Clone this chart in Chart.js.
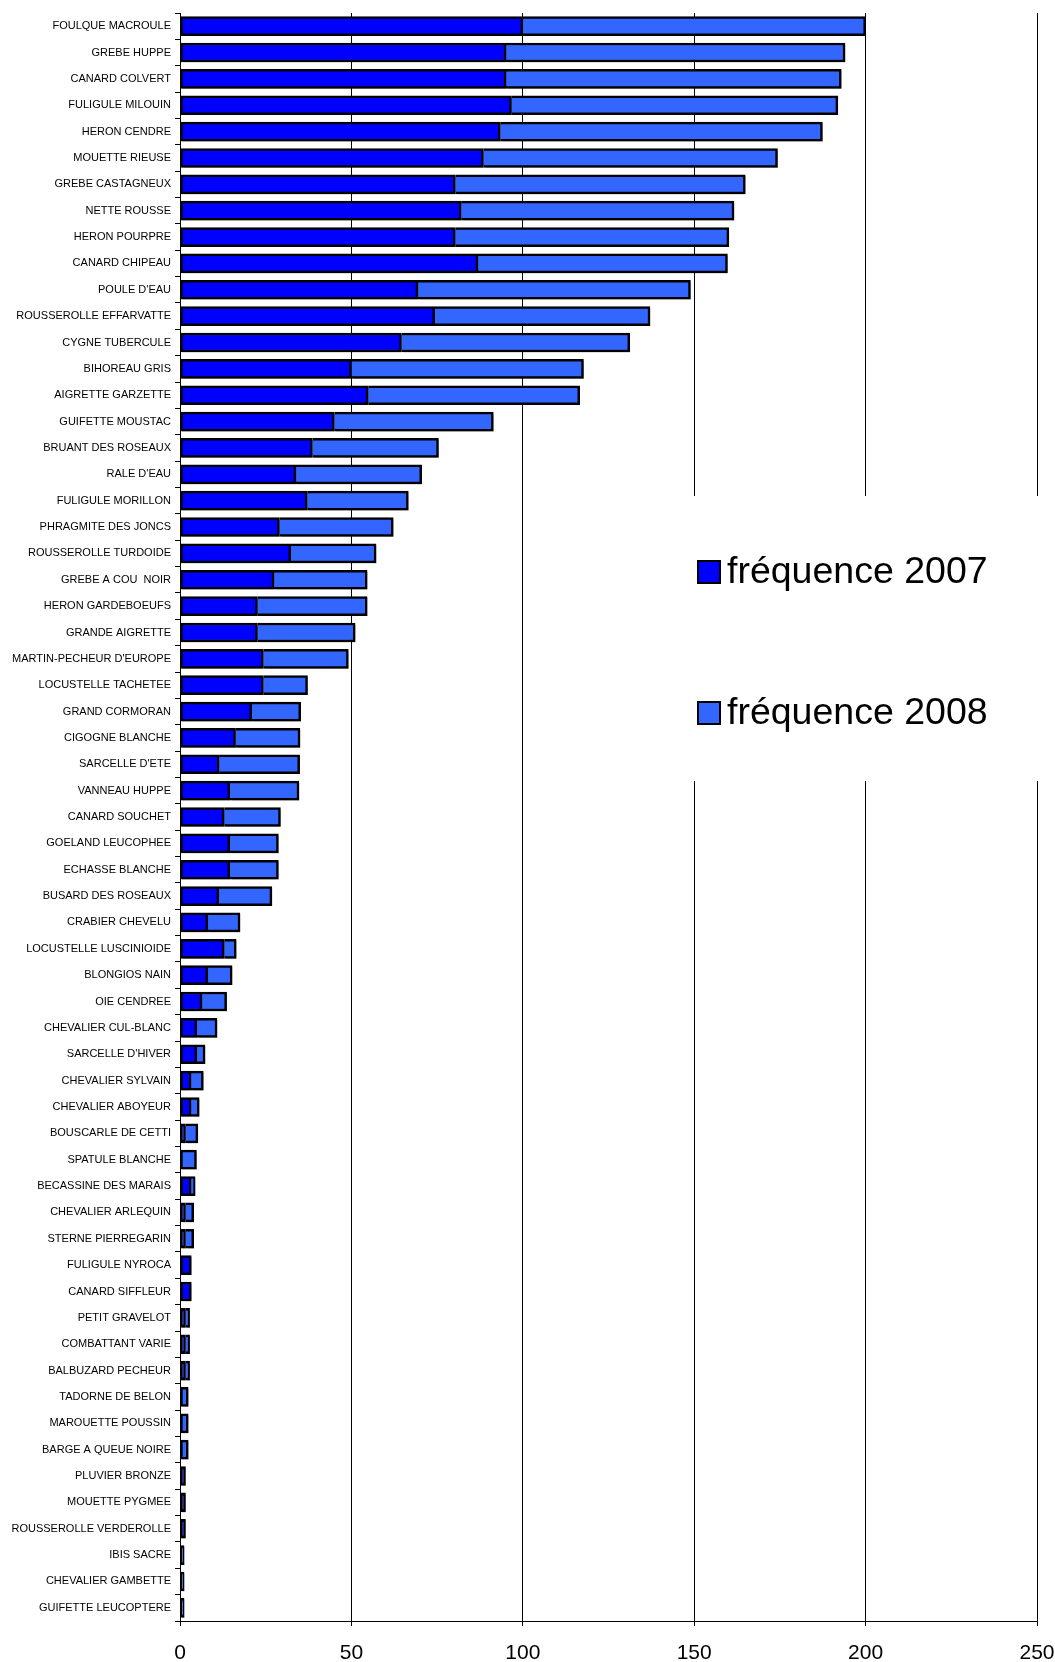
<!DOCTYPE html>
<html>
<head>
<meta charset="utf-8">
<script src="https://cdn.jsdelivr.net/npm/chart.js@4/dist/chart.umd.min.js"></script>
<style>
  body { margin: 0; background: #fff; }
  #wrap { width: 1055px; height: 1662px; }
</style>
</head>
<body>
<div id="wrap"><canvas id="myChart" width="1055" height="1662"></canvas></div>
<script>
const especes = ["FOULQUE MACROULE","GREBE HUPPE","CANARD COLVERT","FULIGULE MILOUIN","HERON CENDRE",
  "MOUETTE RIEUSE","GREBE CASTAGNEUX","NETTE ROUSSE","HERON POURPRE","CANARD CHIPEAU",
  "POULE D'EAU","ROUSSEROLLE EFFARVATTE","CYGNE TUBERCULE","BIHOREAU GRIS","AIGRETTE GARZETTE",
  "GUIFETTE MOUSTAC","BRUANT DES ROSEAUX","RALE D'EAU","FULIGULE MORILLON","PHRAGMITE DES JONCS",
  "ROUSSEROLLE TURDOIDE","GREBE A COU  NOIR","HERON GARDEBOEUFS","GRANDE AIGRETTE","MARTIN-PECHEUR D'EUROPE",
  "LOCUSTELLE TACHETEE","GRAND CORMORAN","CIGOGNE BLANCHE","SARCELLE D'ETE","VANNEAU HUPPE",
  "CANARD SOUCHET","GOELAND LEUCOPHEE","ECHASSE BLANCHE","BUSARD DES ROSEAUX","CRABIER CHEVELU",
  "LOCUSTELLE LUSCINIOIDE","BLONGIOS NAIN","OIE CENDREE","CHEVALIER CUL-BLANC","SARCELLE D'HIVER",
  "CHEVALIER SYLVAIN","CHEVALIER ABOYEUR","BOUSCARLE DE CETTI","SPATULE BLANCHE","BECASSINE DES MARAIS",
  "CHEVALIER ARLEQUIN","STERNE PIERREGARIN","FULIGULE NYROCA","CANARD SIFFLEUR","PETIT GRAVELOT",
  "COMBATTANT VARIE","BALBUZARD PECHEUR","TADORNE DE BELON","MAROUETTE POUSSIN","BARGE A QUEUE NOIRE",
  "PLUVIER BRONZE","MOUETTE PYGMEE","ROUSSEROLLE VERDEROLLE","IBIS SACRE","CHEVALIER GAMBETTE",
  "GUIFETTE LEUCOPTERE"]

const freq2007 = [100, 95.1, 95.1, 96.7, 93.4,
  88.5, 80.3, 82.0, 80.3, 86.9,
  69.4, 74.3, 64.6, 50.0, 54.9,
  45.0, 38.6, 33.8, 37.1, 29.0,
  32.3, 27.4, 22.6, 22.6, 24.3,
  24.3, 20.9, 16.2, 11.4, 14.5,
  12.9, 14.5, 14.5, 11.3, 8.1,
  12.9, 8.1, 6.4, 4.9, 4.9,
  3.2, 3.2, 1.6, 0, 3.2,
  1.6, 1.6, 3.3, 3.3, 1.6,
  1.6, 1.6, 0, 0, 0,
  1.6, 1.6, 1.6, 0, 0,
  0]

const freq2008 = [100, 98.9, 97.8, 95.2, 94.0,
  85.8, 84.6, 79.6, 79.8, 72.8,
  79.5, 62.8, 66.6, 67.7, 61.7,
  46.4, 36.8, 36.7, 29.5, 33.2,
  24.9, 27.2, 32.0, 28.5, 24.8,
  12.9, 14.3, 18.8, 23.5, 20.2,
  16.4, 14.2, 14.2, 15.5, 9.4,
  3.5, 7.1, 7.2, 5.9, 2.4,
  3.6, 2.4, 3.6, 4.8, 1.2,
  2.4, 2.4, 0, 0, 1.2,
  1.2, 1.2, 2.4, 2.4, 2.4,
  0, 0, 0, 1.2, 1.2,
  1.2]

const xTicks = [0, 50, 100, 150, 200, 250]

// petite ombre grise sous les barres
const ombre = {
  id: 'ombre',
  beforeDatasetsDraw(chart) {
    const c = chart.ctx
    c.save()
    c.shadowColor = 'rgba(0,0,0,0.3)'
    c.shadowOffsetX = 2
    c.shadowOffsetY = 2
    c.shadowBlur = 0
  },
  afterDatasetsDraw(chart) {
    chart.ctx.restore()
  }
}

// legende dans un cadre blanc a droite
const legende = {
  id: 'legende',
  afterDraw(chart) {
    const c = chart.ctx
    c.save()
    c.fillStyle = '#fff'
    c.fillRect(680, 496, 362, 285)
    const ys = [572, 713]
    chart.data.datasets.forEach((ds, i) => {
      c.fillStyle = ds.backgroundColor
      c.fillRect(697, ys[i] - 12, 24, 24)
      c.strokeStyle = '#000'
      c.lineWidth = 2
      c.strokeRect(698, ys[i] - 11, 22, 22)
      c.fillStyle = '#000'
      c.font = '37.5px "Liberation Sans", Arial, sans-serif'
      c.textBaseline = 'middle'
      c.textAlign = 'left'
      c.fillText(ds.label, 727, ys[i] + 1)
    })
    c.restore()
  }
}

const ctx = document.getElementById('myChart').getContext('2d')
const myChart = new Chart(ctx, {
  type: 'bar',
  data: {
    labels: especes,
    datasets: [{
      label: 'fréquence 2007',
      data: freq2007,
      backgroundColor: '#0000FF',
      borderColor: '#000',
      borderWidth: 2.5,
      borderSkipped: false,
      barThickness: 19
    },
    {
      label: 'fréquence 2008',
      data: freq2008,
      backgroundColor: '#3366FF',
      borderColor: '#000',
      borderWidth: 2.5,
      borderSkipped: c => freq2007[c.dataIndex] > 0 ? 'start' : false,
      barThickness: 19
    }]
  },
  plugins: [ombre, legende],
  options: {
    indexAxis: 'y',
    responsive: false,
    animation: false,
    layout: { padding: { top: 13, right: 18, left: 0, bottom: 0 } },
    plugins: { legend: { display: false }, tooltip: { enabled: false } },
    scales: {
      x: {
        stacked: true,
        min: 0,
        max: 250,
        afterBuildTicks: s => { s.ticks = xTicks.map(v => ({ value: v })) },
        afterFit: s => { s.height = 41; s.paddingRight = 0; s.paddingLeft = 0 },
        ticks: { color: '#000', padding: 15, font: { family: '"Liberation Sans", Arial, sans-serif', size: 21 } },
        grid: { color: '#000', lineWidth: 1, tickLength: 5 },
        border: { color: '#000', width: 1 }
      },
      y: {
        stacked: true,
        afterFit: s => { s.width = 180 },
        ticks: { color: '#000', autoSkip: false, padding: 4, font: { family: '"Liberation Sans", Arial, sans-serif', size: 11 } },
        grid: { offset: true, drawOnChartArea: false, color: '#000', tickLength: 5 },
        border: { color: '#000', width: 1 }
      }
    }
  }
})
</script>
</body>
</html>
